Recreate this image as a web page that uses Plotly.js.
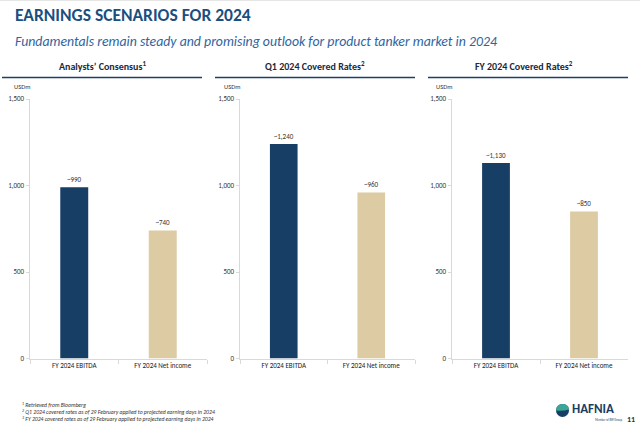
<!DOCTYPE html>
<html>
<head>
<meta charset="utf-8">
<script src="https://cdn.plot.ly/plotly-3.0.1.min.js"></script>
<style>
html,body{margin:0;padding:0;background:#fff;}
#chart{width:640px;height:427px;}
</style>
</head>
<body>
<div id="chart"></div>
<script>
// ---- data ----
var categories = ["FY 2024 EBITDA", "FY 2024 Net income"];
var panelTitles = ["Analysts’ Consensus<sup>1</sup>", "Q1 2024 Covered Rates<sup>2</sup>", "FY 2024 Covered Rates<sup>2</sup>"];
var consensusValues = [990, 740];
var q1CoveredValues = [1240, 960];
var fyCoveredValues = [1130, 850];
var yTickValues = [0, 500, 1000, 1500];
var yTickLabels = ["0", "500", "1,000", "1,500"];
var footnotes = [
  "<sup>1</sup> Retrieved from Bloomberg",
  "<sup>2</sup> Q1 2024 covered rates as of 29 February applied to projected earning days in 2024",
  "<sup>3</sup> FY 2024 covered rates as of 29 February applied to projected earning days in 2024"
];

// ---- layout helpers ----
var W = 640, H = 427;
function px(x){ return x / W; }
function py(y){ return 1 - y / H; }
var FONT = "Carlito, Lato, 'Open Sans', sans-serif";
var navy = "#173f66";
var tan = "#ddcba4";
var axisGray = "#d9d9d9";

var panels = [
  {values: consensusValues, x0: 30, x1: 207, head: 102, line: [2, 202]},
  {values: q1CoveredValues, x0: 240, x1: 415, head: 315, line: [215, 415]},
  {values: fyCoveredValues, x0: 452, x1: 628, head: 524, line: [428, 628]}
];

var yDom = [py(358.5), py(99)];
var data = [];
var layout = {
  width: W, height: H,
  margin: {l: 0, r: 0, t: 0, b: 0},
  paper_bgcolor: "#fff", plot_bgcolor: "#fff",
  showlegend: false,
  bargap: 0.684,
  annotations: [], shapes: []
};

panels.forEach(function(p, i){
  var sfx = i === 0 ? "" : String(i + 1);
  data.push({
    type: "bar",
    x: categories,
    y: p.values,
    xaxis: "x" + sfx, yaxis: "y" + sfx,
    marker: {color: [navy, tan], line: {width: 0}},
    text: p.values.map(function(v){ return "~" + v.toLocaleString("en-US"); }),
    textposition: "outside",
    cliponaxis: false,
    textfont: {family: FONT, size: 7, color: "#333"},
    hoverinfo: "skip"
  });
  layout["xaxis" + sfx] = {
    domain: [px(p.x0), px(p.x1)], anchor: "y" + sfx,
    type: "category",
    showline: true, linecolor: axisGray, linewidth: 1,
    ticks: "outside", tickson: "boundaries", ticklen: 4, tickcolor: axisGray,
    showgrid: false, zeroline: false,
    tickfont: {family: FONT, size: 7, color: "#222"},
    fixedrange: true
  };
  layout["yaxis" + sfx] = {
    domain: yDom, anchor: "x" + sfx,
    range: [0, 1500],
    tickvals: yTickValues, ticktext: yTickLabels,
    showline: true, linecolor: axisGray, linewidth: 1.5,
    ticks: "outside", ticklen: 3, tickcolor: axisGray,
    showgrid: false, zeroline: false,
    tickfont: {family: FONT, size: 7, color: "#333"},
    fixedrange: true
  };
  layout.annotations.push({
    xref: "paper", yref: "paper", x: px(p.head), y: py(66),
    text: "<b>" + panelTitles[i] + "</b>", showarrow: false,
    xanchor: "center", yanchor: "middle",
    font: {family: FONT, size: 10, color: "#1b2a3c"}
  });
  layout.annotations.push({
    xref: "paper", yref: "paper", x: px(p.x0 - 8), y: py(87),
    text: "USDm", showarrow: false, xanchor: "center", yanchor: "middle",
    font: {family: FONT, size: 6.5, color: "#333"}
  });
  layout.shapes.push({
    type: "line", xref: "paper", yref: "paper",
    x0: px(p.line[0]), x1: px(p.line[1]), y0: py(77.5), y1: py(77.5),
    line: {color: "#1f3f66", width: 1.5}
  });
});

// Titles
layout.annotations.push({
  xref: "paper", yref: "paper", x: px(13), y: py(15),
  text: "<b>EARNINGS SCENARIOS FOR 2024</b>", showarrow: false,
  xanchor: "left", yanchor: "middle",
  font: {family: FONT, size: 17.5, color: "#1b4f80"}
});
layout.annotations.push({
  xref: "paper", yref: "paper", x: px(13), y: py(41),
  text: "<i>Fundamentals remain steady and promising outlook for product tanker market in 2024</i>",
  showarrow: false, xanchor: "left", yanchor: "middle",
  font: {family: FONT, size: 13.8, color: "#2e64a0"}
});

// Footnotes
footnotes.forEach(function(t, k){
  layout.annotations.push({
    xref: "paper", yref: "paper", x: px(20), y: py(405 + k * 7),
    text: "<i>" + t + "</i>", showarrow: false, xanchor: "left", yanchor: "middle",
    font: {family: FONT, size: 5.7, color: "#333"}
  });
});

// Logo
layout.shapes.push({
  type: "circle", xref: "paper", yref: "paper",
  x0: px(556), x1: px(569), y0: py(417), y1: py(404),
  fillcolor: navy, line: {width: 0}
});
layout.shapes.push({
  type: "path", xref: "paper", yref: "paper",
  path: "M " + px(556) + "," + py(410.5) + " Q " + px(556) + "," + py(404) + " " + px(562.5) + "," + py(404) +
        " Q " + px(569) + "," + py(404) + " " + px(569) + "," + py(409.5) +
        " Q " + px(562.5) + "," + py(411.5) + " " + px(556) + "," + py(410.5) + " Z",
  fillcolor: "#3ba596", line: {width: 0}
});
layout.annotations.push({
  xref: "paper", yref: "paper", x: px(570), y: py(408.5),
  text: "<b>HAFNIA</b>", showarrow: false, xanchor: "left", yanchor: "middle",
  font: {family: FONT, size: 13, color: navy}
});
layout.annotations.push({
  xref: "paper", yref: "paper", x: px(624), y: py(419.5),
  text: "Member of BW Group", showarrow: false, xanchor: "right", yanchor: "middle",
  font: {family: FONT, size: 3, color: navy}
});
layout.annotations.push({
  xref: "paper", yref: "paper", x: px(637), y: py(419),
  text: "<b>11</b>", showarrow: false, xanchor: "right", yanchor: "middle",
  font: {family: FONT, size: 8, color: "#333"}
});
// top faint border
layout.shapes.push({
  type: "line", xref: "paper", yref: "paper", x0: 0, x1: 1, y0: py(0.5), y1: py(0.5),
  line: {color: "#e6e6e6", width: 1}
});

Plotly.newPlot("chart", data, layout, {displayModeBar: false, staticPlot: true});
</script>
</body>
</html>
